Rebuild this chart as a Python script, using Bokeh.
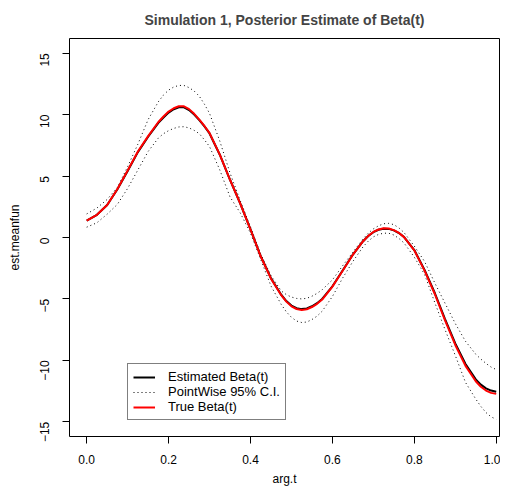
import math
from bokeh.plotting import figure
from bokeh.models import ColumnDataSource, FixedTicker, Legend, LegendItem, Range1d
from bokeh.embed import file_html
from bokeh.resources import INLINE

# ---- data ----
arg_t = [0.0, 0.025, 0.05, 0.075, 0.1, 0.125, 0.15, 0.175, 0.1875, 0.2,
         0.2125, 0.225, 0.2375, 0.25, 0.2625, 0.275, 0.2875, 0.3, 0.325, 0.35,
         0.375, 0.4, 0.425, 0.45, 0.475, 0.4875, 0.5, 0.5125, 0.525, 0.5375,
         0.55, 0.5625, 0.575, 0.6, 0.625, 0.65, 0.675, 0.6875, 0.7, 0.7125,
         0.725, 0.7375, 0.75, 0.7625, 0.775, 0.8, 0.825, 0.85, 0.875, 0.9,
         0.925, 0.95, 0.9625, 0.975, 0.9875, 1.0]

true_beta = [1.38, 1.85, 2.65, 3.95, 5.45, 7.0, 8.25, 9.4, 9.85, 10.25,
             10.52, 10.68, 10.68, 10.45, 10.07, 9.6, 9.08, 8.5, 6.75, 4.7,
             2.75, 0.65, -1.55, -3.35, -4.7, -5.22, -5.6, -5.82, -5.9, -5.84,
             -5.66, -5.4, -5.05, -4.0, -2.7, -1.4, -0.3, 0.13, 0.45, 0.65,
             0.75, 0.73, 0.6, 0.37, 0.03, -1.05, -2.7, -4.6, -6.75, -8.75,
             -10.45, -11.7, -12.15, -12.46, -12.65, -12.73]

est_beta = [1.38, 1.85, 2.64, 3.93, 5.42, 6.95, 8.2, 9.33, 9.77, 10.17,
            10.44, 10.6, 10.6, 10.38, 10.01, 9.55, 9.04, 8.47, 6.74, 4.7,
            2.75, 0.66, -1.53, -3.32, -4.66, -5.17, -5.54, -5.75, -5.83, -5.78,
            -5.6, -5.35, -5.0, -3.97, -2.68, -1.39, -0.3, 0.12, 0.43, 0.63,
            0.72, 0.7, 0.58, 0.36, 0.04, -1.02, -2.64, -4.52, -6.64, -8.62,
            -10.3, -11.55, -11.98, -12.28, -12.46, -12.55]

ci_upper = [1.92, 2.4, 3.1, 4.08, 5.77, 7.6, 9.6, 11.05, 11.6, 12.0,
            12.25, 12.38, 12.38, 12.2, 11.92, 11.5, 10.85, 10.1, 7.85, 5.25,
            3.0, 0.85, -1.35, -3.1, -4.35, -4.65, -4.85, -4.96, -5.0, -4.95,
            -4.78, -4.55, -4.25, -3.45, -2.3, -1.2, -0.1, 0.35, 0.7, 0.95,
            1.12, 1.15, 1.05, 0.78, 0.4, -0.7, -1.95, -3.7, -5.35, -7.0,
            -8.45, -9.5, -9.9, -10.25, -10.55, -10.75]

ci_lower = [0.84, 1.2, 1.9, 2.7, 4.0, 5.5, 7.0, 8.1, 8.45, 8.7,
            8.88, 9.0, 9.02, 8.92, 8.72, 8.45, 7.95, 7.4, 5.5, 3.3,
            2.0, 0.35, -1.8, -3.95, -5.45, -6.05, -6.5, -6.8, -6.92, -6.88,
            -6.68, -6.4, -6.0, -4.8, -3.3, -1.95, -0.75, -0.3, 0.05, 0.25,
            0.35, 0.35, 0.2, -0.08, -0.45, -1.6, -3.0, -5.3, -7.5, -9.6,
            -11.8, -13.15, -13.75, -14.25, -14.6, -14.8]

x_ticks = [0.0, 0.2, 0.4, 0.6, 0.8, 1.0]
x_tick_labels = ["0.0", "0.2", "0.4", "0.6", "0.8", "1.0"]
y_ticks = [-15, -10, -5, 0, 5, 10, 15]
y_tick_labels = ["\u221215", "\u221210", "\u22125", "0", "5", "10", "15"]

title_text = "Simulation 1, Posterior Estimate of Beta(t)"
legend_labels = ["Estimated Beta(t)", "PointWise 95% C.I.", "True Beta(t)"]

FONT = "Liberation Sans"

src = ColumnDataSource(dict(t=arg_t, true=true_beta, est=est_beta,
                            up=ci_upper, lo=ci_lower))

p = figure(width=500, height=488, output_backend="svg", toolbar_location=None,
           x_range=Range1d(-0.042, 1.008), y_range=Range1d(-16.2, 16.2),
           min_border_left=69, min_border_right=1,
           min_border_top=38, min_border_bottom=51)

p.title.text = title_text
p.title.text_font = FONT
p.title.text_font_size = "14px"
p.title.text_font_style = "bold"
p.title.align = "center"
p.title.vertical_align = "top"
p.title.standoff = 18

p.grid.visible = False
p.outline_line_color = "black"
p.outline_line_width = 1
p.background_fill_color = "white"
p.border_fill_color = "white"

for ax in (p.xaxis[0], p.yaxis[0]):
    ax.axis_line_color = None
    ax.major_tick_line_color = "black"
    ax.major_tick_out = 7
    ax.major_tick_in = 0
    ax.minor_tick_line_color = None
    ax.major_label_text_font = FONT
    ax.major_label_text_font_size = "12px"
    ax.major_label_text_color = "black"
    ax.axis_label_text_font = FONT
    ax.axis_label_text_font_size = "12px"
    ax.axis_label_text_font_style = "normal"
    ax.axis_label_text_color = "black"

p.xaxis.ticker = FixedTicker(ticks=x_ticks)
p.xaxis.major_label_overrides = dict(zip(x_ticks, x_tick_labels))
p.xaxis.axis_label = "arg.t"
p.xaxis.major_label_standoff = 11
p.xaxis.axis_label_standoff = 5

p.yaxis.ticker = FixedTicker(ticks=y_ticks)
p.yaxis.major_label_overrides = dict(zip(y_ticks, y_tick_labels))
p.yaxis.major_label_orientation = math.pi / 2
p.yaxis.axis_label = "est.meanfun"
p.yaxis.major_label_standoff = 18
p.yaxis.axis_label_standoff = 11

r_est = p.line("t", "est", source=src, line_color="black", line_width=2)
r_up = p.line("t", "up", source=src, line_color="black", line_width=1, line_dash="1 3")
r_lo = p.line("t", "lo", source=src, line_color="black", line_width=1, line_dash="1 3")
r_true = p.line("t", "true", source=src, line_color="#FF0000", line_width=2)

legend = Legend(items=[LegendItem(label=legend_labels[0], renderers=[r_est]),
                       LegendItem(label=legend_labels[1], renderers=[r_up]),
                       LegendItem(label=legend_labels[2], renderers=[r_true])],
                location=(58, 16), margin=0, padding=5, spacing=0,
                glyph_width=22, glyph_height=14, label_height=14,
                label_standoff=13,
                label_text_font=FONT, label_text_font_size="13px",
                label_text_color="black",
                border_line_color="black", border_line_width=1,
                background_fill_color="white", background_fill_alpha=1.0)
p.add_layout(legend, "center")

open("out.html", "w").write(file_html(p, INLINE))
